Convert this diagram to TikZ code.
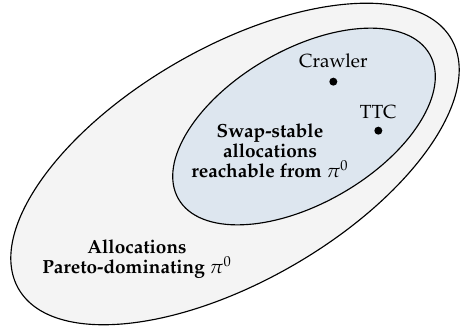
\documentclass[tikz,border=0pt]{standalone}
\usepackage[T1]{fontenc}
\usepackage{mathpazo}
\usepackage{tikz}

\definecolor{outergray}{RGB}{244,244,244}
\definecolor{innerblue}{RGB}{221,230,239}

\begin{document}
\begin{tikzpicture}[dot/.style={circle, fill=black, inner sep=0pt, minimum size=4.2pt}]
	\useasboundingbox (-4.345,-3.069) rectangle (4.308,3.032);

	% the two sets
	\draw[semithick, fill=outergray, rotate=30] (0,0) ellipse (4.62 and 2.16);
	\draw[semithick, fill=innerblue, shift={(1.276,0.693)}, rotate=30] (0,0) ellipse (2.68 and 1.42);

	% the two algorithms
	\node[dot, label={[label distance=1.5pt]above:Crawler}] (crawler) at (1.818,1.522) {};
	\node[dot, label={[label distance=0.5pt]above:TTC}] (ttc) at (2.650,0.616) {};

	% set names
	\node[font=\bfseries, align=center] (swap) at (0.647,0.240) {Swap-stable\\[-1.5pt] allocations\\[-1.5pt] reachable from $\pi^0$};
	\node[font=\bfseries, align=center] (pareto) at (-1.812,-1.757) {Allocations\\[-1.5pt] Pareto-dominating $\pi^0$};
\end{tikzpicture}
\end{document}
